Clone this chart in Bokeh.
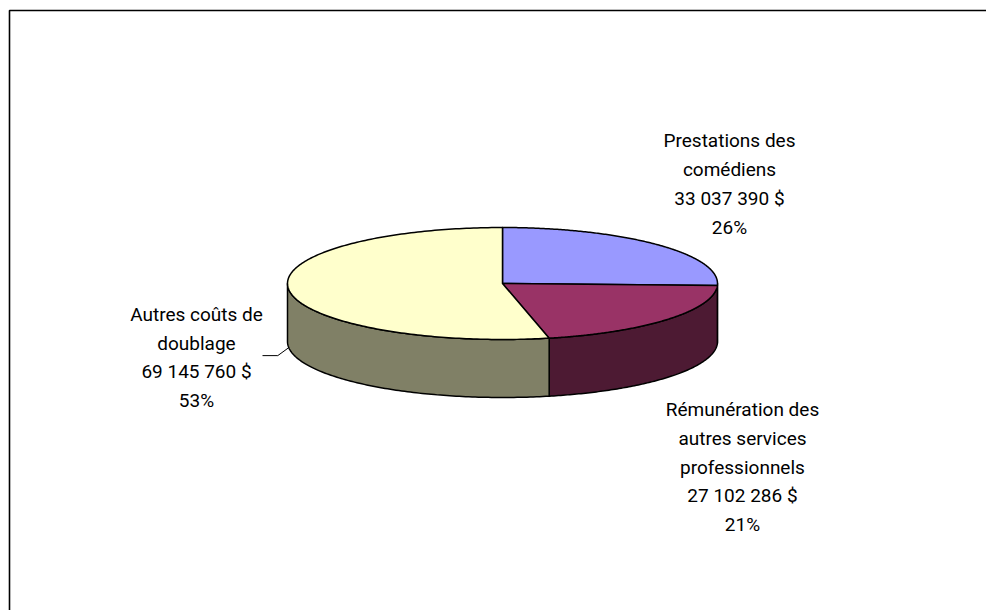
import numpy as np
from bokeh.plotting import figure
from bokeh.models import Range1d, ColumnDataSource
from bokeh.core.properties import value
from bokeh.embed import file_html
from bokeh.resources import INLINE

# ---- data ----
categories = ["Prestations des\ncomédiens",
              "Rémunération des\nautres services\nprofessionnels",
              "Autres coûts de\ndoublage"]
amounts = [33037390, 27102286, 69145760]

# ---- styles ----
top_colors = ["#9999FF", "#993366", "#FFFFCC"]
side_colors = ["#4D4D80", "#4D1A33", "#808066"]

W, H = 986, 610
p = figure(width=W, height=H, x_range=Range1d(0, W), y_range=Range1d(H, 0),
           output_backend="svg", toolbar_location=None, min_border=0,
           x_axis_location=None, y_axis_location=None)
p.grid.visible = False
p.outline_line_color = None

# frame of the chart area (extends past the window on right / bottom)
p.line(x=[9, 9, 1200], y=[900, 10, 10], line_color="black", line_width=1.6)

# ---- pie geometry (layout) ----
cx, cy, rx, ry, depth = 502, 283, 215, 56, 58
vals = np.array(amounts, dtype=float)
frac = vals / vals.sum()
ends = 90 - 360 * np.cumsum(frac)
starts = np.concatenate([[90], ends[:-1]])

def pt(t_deg, dy=0.0):
    t = np.radians(t_deg)
    return cx + rx * np.cos(t), cy - ry * np.sin(t) + dy

side_xs, side_ys, side_c = [], [], []
top_xs, top_ys = [], []
for i in range(len(vals)):
    t0, t1 = starts[i], ends[i]
    # visible front wall: angles in [-180, 0]
    hi, lo = min(t0, 0), max(t1, -180)
    if hi > lo:
        ts = np.linspace(hi, lo, 120)
        x1, y1 = pt(ts)
        x2, y2 = pt(ts[::-1], depth)
        side_xs.append(list(np.concatenate([x1, x2])))
        side_ys.append(list(np.concatenate([y1, y2])))
        side_c.append(side_colors[i])
    ts = np.linspace(t0, t1, 200)
    ax, ay = pt(ts)
    top_xs.append([cx] + list(ax))
    top_ys.append([cy] + list(ay))

p.patches(xs=side_xs, ys=side_ys, fill_color=side_c, line_color="black",
          line_width=1.5, line_join="round")
p.patches(xs=top_xs, ys=top_ys, fill_color=top_colors, line_color="black",
          line_width=1.5, line_join="round")

# ---- labels ----
def fmt(v):
    return f"{v:,}".replace(",", " ") + " $"

pcts = [f"{round(f * 100)}%" for f in frac]
labels = [f"{c}\n{fmt(a)}\n{pc}" for c, a, pc in zip(categories, amounts, pcts)]
label_x = [729, 742, 196]
label_y = [183.5, 466.5, 357]

src = ColumnDataSource(dict(x=label_x, y=label_y, text=labels))
p.text(x="x", y="y", text="text", source=src, text_align="center",
       text_baseline="middle", text_font=value("Roboto"),
       text_font_size="19px", text_line_height=1.25, text_color="black")

# leader line for the "Autres" slice, anchored at its mid-angle on the base
mid = (starts[2] + ends[2]) / 2
bx, by = pt(mid, depth)
p.line(x=[262, bx - 11, bx], y=[by + 8, by + 8, by], line_color="black", line_width=1)

open("out.html", "w").write(file_html(p, INLINE))
